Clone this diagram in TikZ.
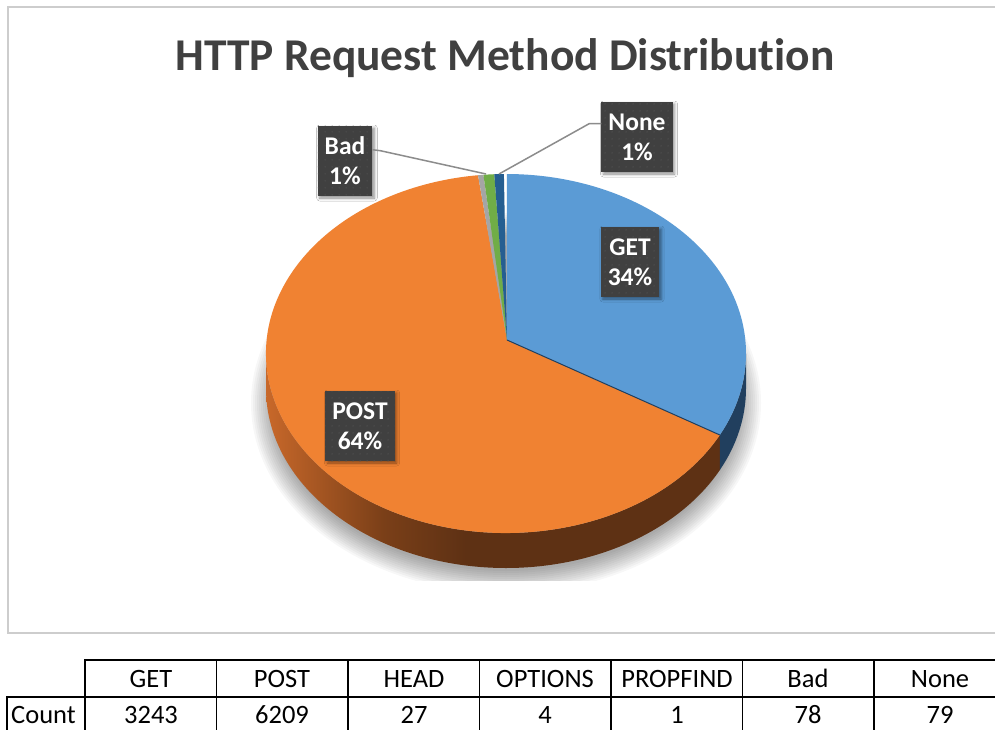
\documentclass[tikz,border=0pt]{standalone}
\usepackage{fontspec}
\setmainfont{Carlito}[RawFeature={-liga}]
\usetikzlibrary{calc,shadows.blur,patterns.meta}

\definecolor{getblue}{HTML}{5B9BD5}
\definecolor{postorange}{HTML}{F08232}
\definecolor{headgray}{HTML}{A5A5A5}
\definecolor{badgreen}{HTML}{70AD47}
\definecolor{nonenavy}{HTML}{255E91}
\definecolor{getside}{HTML}{213F5E}
\definecolor{labelbg}{HTML}{404040}
\definecolor{labeldot}{HTML}{525252}
\definecolor{leader}{HTML}{8C8C8C}
\definecolor{framegray}{HTML}{CDCDCD}
\definecolor{titlegray}{HTML}{404040}
\definecolor{sideA}{HTML}{C8682A}
\definecolor{sideB}{HTML}{7A3F18}
\definecolor{sideC}{HTML}{5E3114}

% brown wall of the POST slice, light on the left, dark towards the front
\pgfdeclarehorizontalshading{postside}{100bp}{color(0bp)=(sideA); color(25bp)=(sideA);
  color(38bp)=(sideB); color(47bp)=(sideC); color(100bp)=(sideC)}

% faint dot texture of the data labels
\tikzdeclarepattern{
  name=labeldots,
  type=uncolored,
  bounding box={(0pt,0pt) and (7pt,7pt)},
  tile size={(7pt,7pt)},
  code={\fill (3.5pt,3.5pt) circle[radius=0.8pt];}
}

\tikzset{
  lbl/.style={fill=labelbg, text=white, font=\fontsize{25.5}{30}\selectfont\bfseries,
    align=center, inner xsep=7pt, inner ysep=5pt, minimum height=70pt,
    blur shadow={shadow xshift=2pt, shadow yshift=-2pt, shadow blur radius=3pt, shadow opacity=45},
    postaction={pattern=labeldots, pattern color=labeldot}},
  leaderline/.style={draw=leader, line width=1.5pt},
  cell/.style={font=\fontsize{26.5}{30}\selectfont, anchor=base, inner sep=0pt},
  gridline/.style={line width=1.3pt, black},
}

\begin{document}
\begin{tikzpicture}[x=1pt, y=-1pt]
\useasboundingbox (0,0) rectangle (995,730);
\clip (0,0) rectangle (995,730);
\fill[white] (0,0) rectangle (995,730);

% chart frame
\draw[framegray, line width=2pt] (1005,7) -- (8,7) -- (8,633) -- (1005,633);

% title
\node[font=\fontsize{45.5}{50}\selectfont\bfseries, text=titlegray, anchor=base, inner sep=0pt]
  (title) at (505,71) {HTTP Request Method Distribution};

% soft shadow under the pie
\begin{scope}
  \clip (0,0) rectangle (995,580);
  \foreach \i in {0,...,11}{
    \fill[black, opacity=0.03] (506,403) ellipse[x radius={233+2*\i}, y radius={168+2*\i}];
  }
\end{scope}

\coordinate (E) at (506,353.5);  % centre of the top face ellipse
\coordinate (C) at (507,340);    % apex where the slices meet

% side walls
\shade[shading=postside] ($(E)+(27:240 and 179.5)$)
  arc[start angle=27, end angle=180, x radius=240, y radius=179.5] -- ++(0,35)
  arc[start angle=180, end angle=27, x radius=240, y radius=179.5] -- cycle;
\fill[getside] ($(E)+(0:240 and 179.5)$)
  arc[start angle=0, end angle=27, x radius=240, y radius=179.5] -- ++(0,35)
  arc[start angle=27, end angle=0, x radius=240, y radius=179.5] -- cycle;

% top face slices
\fill[postorange] (C) -- ($(E)+(27:240 and 179.5)$)
  arc[start angle=27, end angle=263.3, x radius=240, y radius=179.5] -- cycle;
\fill[headgray] (C) -- ($(E)+(263.3:240 and 179.5)$)
  arc[start angle=263.3, end angle=264.6, x radius=240, y radius=179.5] -- cycle;
\fill[badgreen] (C) -- ($(E)+(264.6:240 and 179.5)$)
  arc[start angle=264.6, end angle=267.2, x radius=240, y radius=179.5] -- cycle;
\fill[nonenavy] (C) -- ($(E)+(267.2:240 and 179.5)$)
  arc[start angle=267.2, end angle=269.5, x radius=240, y radius=179.5] -- cycle;
\fill[getblue] (C) -- ($(E)+(270.2:240 and 179.5)$)
  arc[start angle=270.2, end angle=387, x radius=240, y radius=179.5] -- cycle;
\draw[getside, line width=1pt] (C) -- ($(E)+(27:240 and 179.5)$);

% data labels and leader lines
\node[lbl] (getlbl) at (630,262) {GET\\34\%};
\node[lbl] (postlbl) at (360,426) {POST\\64\%};
\node[lbl] (badlbl) at (345,161) {Bad\\1\%};
\node[lbl] (nonelbl) at (637,137) {None\\1\%};

\coordinate (badtip) at (486,174);
\coordinate (nonetip) at (499,174);
\draw[leaderline] ($(badlbl.north east)!0.34!(badlbl.south east)$) -- ++(8,1) -- (badtip);
\draw[leaderline] ($(nonelbl.north west)!0.31!(nonelbl.south west)$) -- ++(-12,0) -- (nonetip);

% data table
\draw[gridline] (85,735) -- (85,660) -- (1005,660);
\draw[gridline] (7,735) -- (7,697) -- (1005,697);
\foreach \x in {216.5,348,479.5,611,742.5,874}{
  \draw[gridline] (\x,660) -- (\x,735);
}
\node[cell, anchor=base west] (count) at (11,723) {Count};
\foreach \n/\x/\h/\v in {get/151/GET/3243, post/282/POST/6209, head/414/HEAD/27,
    options/545/OPTIONS/4, propfind/677/PROPFIND/1, bad/808/Bad/78, none/940/None/79}{
  \node[cell] (h\n) at (\x,687) {\h};
  \node[cell] (v\n) at (\x,723) {\v};
}
\end{tikzpicture}
\end{document}
